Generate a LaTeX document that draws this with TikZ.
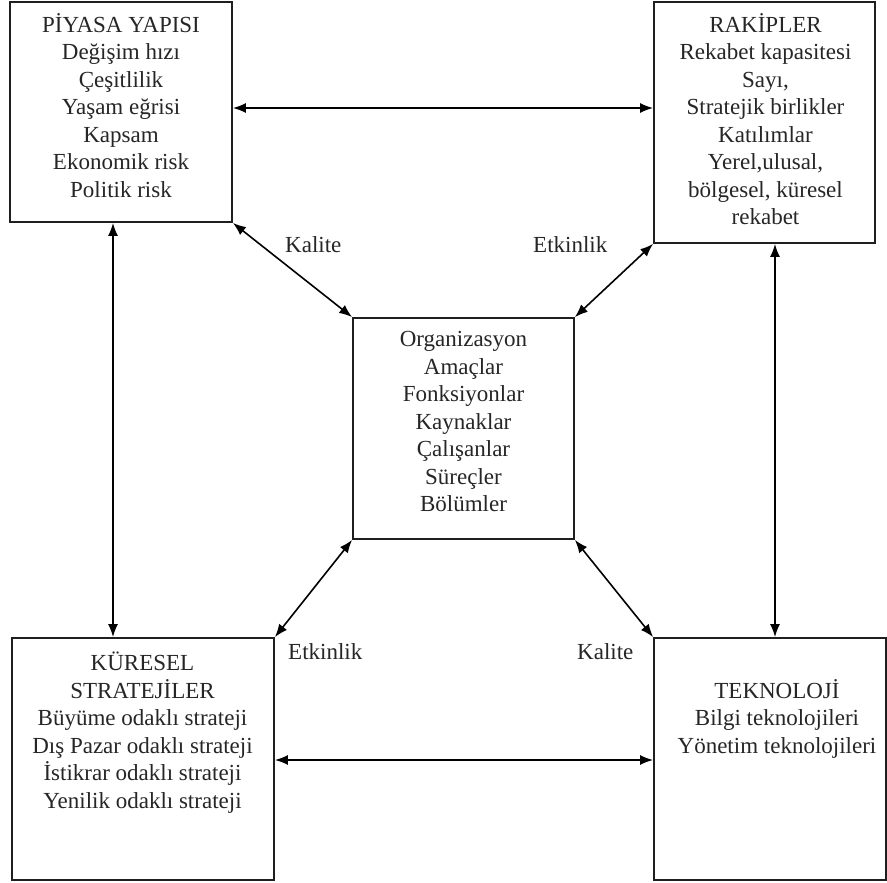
\documentclass[tikz,border=0pt]{standalone}
\usepackage{fontspec}
\setmainfont{Liberation Serif}
\usetikzlibrary{arrows.meta}
\begin{document}
\begin{tikzpicture}[x=1pt,y=1pt,
  box/.style={draw=black!88, line width=1.8pt, rectangle, inner sep=0pt},
  txt/.style={font=\fontsize{23}{27.5}\selectfont, align=center, inner sep=0pt, text=black!85, anchor=base},
  lab/.style={font=\fontsize{23}{27.5}\selectfont, inner sep=0pt, text=black!85, anchor=base west},
  conn/.style={line width=1.6pt, draw=black, {Latex[length=13pt,width=10pt]}-{Latex[length=13pt,width=10pt]}}]
\useasboundingbox (0,0) rectangle (887,-883);
\fill[white] (0,0) rectangle (887,-883);
% boxes
\node[box, minimum width=222pt, minimum height=220pt] (TL) at (121,-112) {};
\node[box, minimum width=221pt, minimum height=241pt] (TR) at (764.5,-122.5) {};
\node[box, minimum width=221pt, minimum height=221pt] (C) at (463.5,-428.5) {};
\node[box, minimum width=262pt, minimum height=242pt] (BL) at (143,-759) {};
\node[box, minimum width=232pt, minimum height=242pt] (BR) at (770,-759) {};
% texts (base anchor = baseline of last line)
\node[txt] (tTL) at (121,-197.3) {PİYASA YAPISI\\Değişim hızı\\Çeşitlilik\\Yaşam eğrisi\\Kapsam\\Ekonomik risk\\Politik risk};
\node[txt] (tTR) at (765.5,-224.8) {RAKİPLER\\Rekabet kapasitesi\\Sayı,\\Stratejik birlikler\\Katılımlar\\Yerel,ulusal,\\bölgesel, küresel\\rekabet};
\node[txt] (tC) at (463.5,-511.7) {Organizasyon\\Amaçlar\\Fonksiyonlar\\Kaynaklar\\Çalışanlar\\Süreçler\\Bölümler};
\node[txt] (tBL) at (142.5,-808.2) {KÜRESEL\\STRATEJİLER\\Büyüme odaklı strateji\\Dış Pazar odaklı strateji\\İstikrar odaklı strateji\\Yenilik odaklı strateji};
\node[txt] (tBR) at (777,-753) {TEKNOLOJİ\\Bilgi teknolojileri\\Yönetim teknolojileri};
% labels
\node[lab] (l1) at (285,-252) {Kalite};
\node[lab] (l2) at (533,-252) {Etkinlik};
\node[lab] (l3) at (288,-659) {Etkinlik};
\node[lab] (l4) at (577,-659) {Kalite};
% guide coordinates
\coordinate (yT) at (0,-108);
\coordinate (yB) at (0,-760);
\coordinate (xL) at (113,0);
\coordinate (xR) at (775,0);
% connectors
\draw[conn] (TL.east |- yT) -- (TR.west |- yT);
\draw[conn] (BL.east |- yB) -- (BR.west |- yB);
\draw[conn] (TL.south -| xL) -- (BL.north -| xL);
\draw[conn] (TR.south -| xR) -- (BR.north -| xR);
\draw[conn] (TL.south east) -- (C.north west);
\draw[conn] (TR.south west) -- (C.north east);
\draw[conn] (C.south west) -- (BL.north east);
\draw[conn] (C.south east) -- (BR.north west);
\end{tikzpicture}
\end{document}
